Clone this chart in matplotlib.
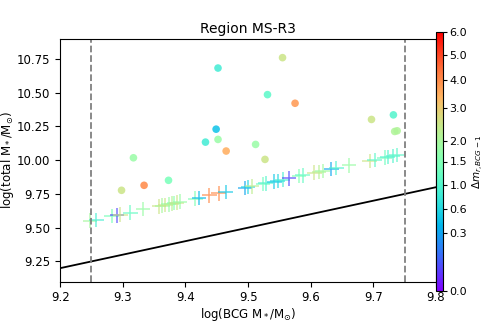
import numpy as np
import matplotlib
matplotlib.use('Agg')
import matplotlib.pyplot as plt
from matplotlib.colors import PowerNorm

# Satellite-rich systems (circles): BCG mass, total mass, magnitude gap
circ_x = [9.298, 9.317, 9.334, 9.373, 9.452, 9.449, 9.432, 9.452, 9.465,
          9.555, 9.531, 9.575, 9.512, 9.527, 9.697, 9.732, 9.734, 9.738]
circ_y = [9.777, 10.018, 9.814, 9.851, 10.683, 10.230, 10.134, 10.154, 10.068,
          10.760, 10.486, 10.422, 10.117, 10.006, 10.302, 10.336, 10.213, 10.218]
circ_dm = [2.5, 1.8, 4.0, 1.4, 0.85, 0.45, 0.85, 1.8, 3.5,
           2.5, 1.1, 3.8, 1.8, 2.5, 2.5, 1.0, 2.1, 2.1]

# Pairs (plus markers)
plus_x = [9.248, 9.258, 9.282, 9.291, 9.296, 9.312, 9.332, 9.358, 9.363, 9.368,
          9.373, 9.378, 9.382, 9.386, 9.391, 9.416, 9.422, 9.438, 9.453, 9.464,
          9.495, 9.500, 9.506, 9.524, 9.528, 9.542, 9.547, 9.555, 9.565, 9.581,
          9.587, 9.606, 9.613, 9.619, 9.633, 9.641, 9.661, 9.694, 9.702, 9.718,
          9.723, 9.731, 9.737]
plus_y = [9.553, 9.558, 9.585, 9.592, 9.597, 9.612, 9.637, 9.658, 9.663, 9.668,
          9.672, 9.678, 9.682, 9.686, 9.692, 9.716, 9.720, 9.740, 9.755, 9.765,
          9.794, 9.800, 9.807, 9.825, 9.829, 9.842, 9.847, 9.856, 9.866, 9.882,
          9.887, 9.907, 9.913, 9.920, 9.934, 9.941, 9.962, 9.995, 10.003, 10.019,
          10.024, 10.032, 10.038]
plus_dm = [2.0, 0.9, 1.4, 0.05, 2.5, 1.2, 1.8, 2.5, 2.0, 2.5,
           1.8, 2.2, 1.6, 2.5, 1.8, 1.5, 0.4, 4.0, 4.0, 0.5,
           0.3, 0.6, 2.3, 1.3, 1.0, 0.5, 0.6, 0.9, 0.05, 1.5,
           1.2, 2.5, 2.2, 1.9, 0.3, 1.0, 1.8, 2.5, 1.1, 1.3,
           1.0, 1.0, 1.1]

one_to_one = [9.2, 9.8]
mass_cuts = [9.25, 9.75]
cbar_ticks = [0.0, 0.3, 0.6, 1.0, 1.5, 2.0, 3.0, 4.0, 5.0, 6.0]

plt.rcParams['font.size'] = 8.5
fig = plt.figure(figsize=(4.85, 3.23), dpi=100)
ax = fig.add_axes([0.124, 0.128, 0.775, 0.752])
cax = fig.add_axes([0.899, 0.099, 0.015, 0.802])

norm = PowerNorm(gamma=0.5, vmin=0, vmax=6)
cmap = 'rainbow'

ax.plot(one_to_one, one_to_one, color='black', lw=1.3)
for xc in mass_cuts:
    ax.axvline(xc, color='gray', ls='--', lw=1.3)

ax.scatter(plus_x, plus_y, c=plus_dm, cmap=cmap, norm=norm, marker='+',
           s=110, lw=1.1, alpha=0.75)
sc = ax.scatter(circ_x, circ_y, c=circ_dm, cmap=cmap, norm=norm, marker='o',
                s=30, lw=0, alpha=0.85)

ax.set_xlim(9.2, 9.8)
ax.set_ylim(9.1, 10.9)
ax.set_yticks([9.25, 9.5, 9.75, 10.0, 10.25, 10.5, 10.75])
ax.set_xlabel(r'log(BCG M$_*$/M$_{\odot}$)', labelpad=1)
ax.set_ylabel(r'log(total M$_*$/M$_{\odot}$)', labelpad=1)
ax.set_title('Region MS-R3', fontsize=10, pad=4)

cb = fig.colorbar(sc, cax=cax, ticks=cbar_ticks)
cb.solids.set_alpha(1)
cb.ax.set_yticklabels(['%.1f' % t for t in cbar_ticks])
cb.ax.tick_params(labelsize=8, length=3, pad=1.5)
fig.text(0.987, 0.5, r'$\Delta m_{r,BCG-1}$', rotation=90, fontsize=7.5,
         ha='center', va='center')

fig.savefig('out.png', dpi=100)
